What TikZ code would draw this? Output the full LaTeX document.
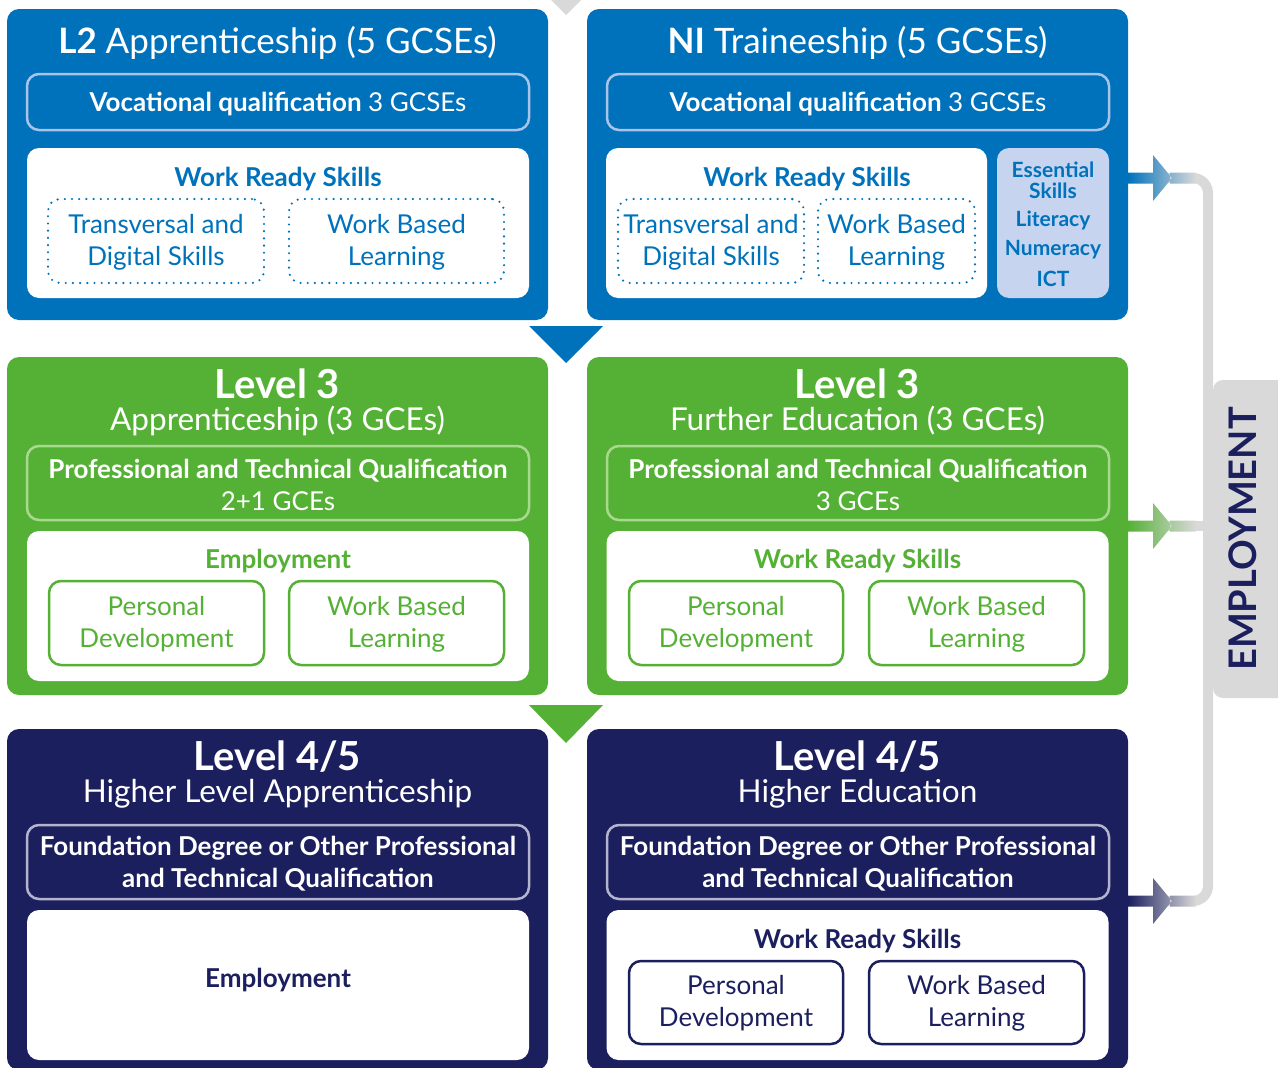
\documentclass[tikz,border=0pt]{standalone}
\usepackage{fontspec}
\setmainfont{Lato}
\usetikzlibrary{positioning}
\definecolor{l2blue}{HTML}{0072BC}
\definecolor{l3green}{HTML}{55B135}
\definecolor{l4navy}{HTML}{1C1F5E}
\definecolor{paleblue}{HTML}{A9C4E9}
\definecolor{esblue}{HTML}{C6D4F0}
\definecolor{palegreen}{HTML}{A9D98F}
\definecolor{palenavy}{HTML}{B3B5CF}
\definecolor{railgray}{HTML}{D9D9D9}
\newcommand{\titlefont}{\fontsize{35}{36}\selectfont}
\newcommand{\subfont}{\fontsize{31.5}{32}\selectfont}
\newcommand{\levelfont}{\bfseries\fontsize{40}{40}\selectfont}
\newcommand{\qualfont}{\fontsize{26}{32}\selectfont}
\newcommand{\itemfont}{\fontsize{26}{32}\selectfont}
\newcommand{\esfont}{\bfseries\fontsize{21}{21}\selectfont}
\tikzstyle{every node}=[inner sep=0pt, align=center]
\tikzstyle{heading}=[text=white, anchor=base]
\tikzstyle{panel}=[rounded corners=12pt, minimum width=541pt]
\tikzstyle{qualbox}=[draw, line width=2.5pt, rounded corners=12pt, minimum width=502pt, minimum height=74pt]
\tikzstyle{whitebox}=[fill=white, rounded corners=12pt, minimum height=150pt]
\tikzstyle{dotbox}=[draw, line width=2.4pt, dash pattern=on 0pt off 7.2pt, line cap=round, rounded corners=12pt, minimum height=84pt]
\tikzstyle{solidbox}=[draw, line width=2.5pt, rounded corners=12pt, minimum height=84pt]
\tikzstyle{rail}=[draw=railgray, line width=10pt, rounded corners=15pt]

\begin{document}
\begin{tikzpicture}[x=1pt,y=-1pt]
  \useasboundingbox (0,0) rectangle (1278,1068);
  % level arrows between the rows
  \fill[railgray] (529,-22) -- (603,-22) -- (566,15) -- cycle;
  \fill[l2blue] (529,326) -- (603,326) -- (566,363) -- cycle;
  \fill[l3green] (529,705) -- (603,705) -- (566,743) -- cycle;

  % rail to employment
  \draw[rail] (1128,178) -- (1208,178) -- (1208,901) -- (1128,901);
  \draw[rail, rounded corners=0pt] (1128,526) -- (1208,526);
  \node[fill=railgray, rounded corners=10pt, minimum width=80pt, minimum height=318pt] (emp) at (1253,539) {};
  \node[rotate=90, text=l4navy, font=\bfseries\fontsize{38}{38}\selectfont] (emptext) at (1243,539) {EMPLOYMENT};
  \foreach \ay/\ac in {178/l2blue, 526/l3green, 901/l4navy}
    \shade[left color=\ac, right color=railgray]
      (1128,\ay-5.5) -- (1153,\ay-5.5) -- (1153,\ay-23) -- (1172,\ay) -- (1153,\ay+23) -- (1153,\ay+5.5) -- (1128,\ay+5.5) -- cycle
      (1170,\ay-5.5) rectangle (1196,\ay+5.5);

  % L2 apprenticeship
  \node[panel, fill=l2blue, minimum height=311pt] (l2) at (277.5,164.5) {};
  \node[heading, font=\titlefont] (l2title) at (277.5,53) {\textbf{L2} Apprenticeship (5 GCSEs)};
  \node[qualbox, draw=paleblue, minimum height=56pt] (l2voc) at (278,102) {};
  \node[text=white, font=\qualfont] (l2voctext) at (278,104) {\textbf{Vocational qualification} 3 GCSEs};
  \node[whitebox, minimum width=502pt] (l2work) at (278,223) {};
  \node[text=l2blue, font=\bfseries\qualfont] (l2wrs) at (278,179) {Work Ready Skills};
  \node[dotbox, draw=l2blue, minimum width=216pt] (l2trans) at (156,241) {};
  \node[text=l2blue, font=\itemfont] (l2transtext) at (156,242) {Transversal and\\Digital Skills};
  \node[dotbox, draw=l2blue, minimum width=215pt] (l2wbl) at (396.5,241) {};
  \node[text=l2blue, font=\itemfont] (l2wbltext) at (396.5,242) {Work Based\\Learning};

  % NI traineeship
  \node[panel, fill=l2blue, minimum height=311pt] (ni) at (857.5,164.5) {};
  \node[heading, font=\titlefont] (nititle) at (857.5,53) {\textbf{NI} Traineeship (5 GCSEs)};
  \node[qualbox, draw=paleblue, minimum height=56pt] (nivoc) at (858,102) {};
  \node[text=white, font=\qualfont] (nivoctext) at (858,104) {\textbf{Vocational qualification} 3 GCSEs};
  \node[whitebox, minimum width=381pt] (niwork) at (796.5,223) {};
  \node[text=l2blue, font=\bfseries\qualfont] (niwrs) at (807,179) {Work Ready Skills};
  \node[dotbox, draw=l2blue, minimum width=186pt] (nitrans) at (711,241) {};
  \node[text=l2blue, font=\itemfont] (nitranstext) at (711,242) {Transversal and\\Digital Skills};
  \node[dotbox, draw=l2blue, minimum width=157pt] (niwbl) at (896.5,241) {};
  \node[text=l2blue, font=\itemfont] (niwbltext) at (896.5,242) {Work Based\\Learning};
  \node[fill=esblue, rounded corners=12pt, minimum width=112pt, minimum height=150pt] (niess) at (1053,223) {};
  \node[text=l2blue, font=\esfont] (niesstext) at (1053,180) {Essential\\Skills};
  \node[text=l2blue, font=\esfont] (nilit) at (1053,220) {Literacy};
  \node[text=l2blue, font=\esfont] (ninum) at (1053,250) {Numeracy};
  \node[text=l2blue, font=\esfont] (niict) at (1053,279) {ICT};

  % Level 3 apprenticeship
  \node[panel, fill=l3green, minimum height=338pt] (l3ap) at (277.5,526) {};
  \node[heading, font=\subfont] (l3aptitle) at (277.5,430) {{\levelfont Level 3}\\Apprenticeship (3 GCEs)};
  \node[qualbox, draw=palegreen] (l3apptq) at (278,483) {};
  \node[text=white, font=\qualfont] (l3apptqtext) at (278,485) {\textbf{Professional and Technical Qualification}\\2+1 GCEs};
  \node[whitebox, minimum width=502pt] (l3apwork) at (278,606) {};
  \node[text=l3green, font=\bfseries\qualfont] (l3apemp) at (278,561) {Employment};
  \node[solidbox, draw=l3green, minimum width=215pt] (l3appd) at (156.5,623) {};
  \node[text=l3green, font=\itemfont] (l3appdtext) at (156.5,624) {Personal\\Development};
  \node[solidbox, draw=l3green, minimum width=215pt] (l3apwbl) at (396.5,623) {};
  \node[text=l3green, font=\itemfont] (l3apwbltext) at (396.5,624) {Work Based\\Learning};

  % Level 3 further education
  \node[panel, fill=l3green, minimum height=338pt] (l3fe) at (857.5,526) {};
  \node[heading, font=\subfont] (l3fetitle) at (857.5,430) {{\levelfont Level 3}\\Further Education (3 GCEs)};
  \node[qualbox, draw=palegreen] (l3feptq) at (858,483) {};
  \node[text=white, font=\qualfont] (l3feptqtext) at (858,485) {\textbf{Professional and Technical Qualification}\\3 GCEs};
  \node[whitebox, minimum width=502pt] (l3fework) at (857.5,606) {};
  \node[text=l3green, font=\bfseries\qualfont] (l3fewrs) at (857.5,561) {Work Ready Skills};
  \node[solidbox, draw=l3green, minimum width=214pt] (l3fepd) at (736,623) {};
  \node[text=l3green, font=\itemfont] (l3fepdtext) at (736,624) {Personal\\Development};
  \node[solidbox, draw=l3green, minimum width=215pt] (l3fewbl) at (976.5,623) {};
  \node[text=l3green, font=\itemfont] (l3fewbltext) at (976.5,624) {Work Based\\Learning};

  % Level 4/5 higher apprenticeship
  \node[panel, fill=l4navy, minimum height=341pt] (l4ap) at (277.5,899.5) {};
  \node[heading, font=\subfont] (l4aptitle) at (277.5,802) {{\levelfont Level 4/5}\\Higher Level Apprenticeship};
  \node[qualbox, draw=palenavy] (l4apfd) at (278,862) {};
  \node[text=white, font=\bfseries\qualfont] (l4apfdtext) at (278,864) {Foundation Degree or Other Professional\\and Technical Qualification};
  \node[whitebox, minimum width=502pt] (l4apwork) at (278,985) {};
  \node[text=l4navy, font=\bfseries\qualfont] (l4apemp) at (278,980) {Employment};

  % Level 4/5 higher education
  \node[panel, fill=l4navy, minimum height=341pt] (l4he) at (857.5,899.5) {};
  \node[heading, font=\subfont] (l4hetitle) at (857.5,802) {{\levelfont Level 4/5}\\Higher Education};
  \node[qualbox, draw=palenavy] (l4hefd) at (858,862) {};
  \node[text=white, font=\bfseries\qualfont] (l4hefdtext) at (858,864) {Foundation Degree or Other Professional\\and Technical Qualification};
  \node[whitebox, minimum width=502pt] (l4hework) at (857.5,985) {};
  \node[text=l4navy, font=\bfseries\qualfont] (l4hewrs) at (857.5,941) {Work Ready Skills};
  \node[solidbox, draw=l4navy, minimum width=214pt, minimum height=83pt] (l4hepd) at (736,1002.5) {};
  \node[text=l4navy, font=\itemfont] (l4hepdtext) at (736,1003.5) {Personal\\Development};
  \node[solidbox, draw=l4navy, minimum width=215pt, minimum height=83pt] (l4hewbl) at (976.5,1002.5) {};
  \node[text=l4navy, font=\itemfont] (l4hewbltext) at (976.5,1003.5) {Work Based\\Learning};
\end{tikzpicture}
\end{document}
